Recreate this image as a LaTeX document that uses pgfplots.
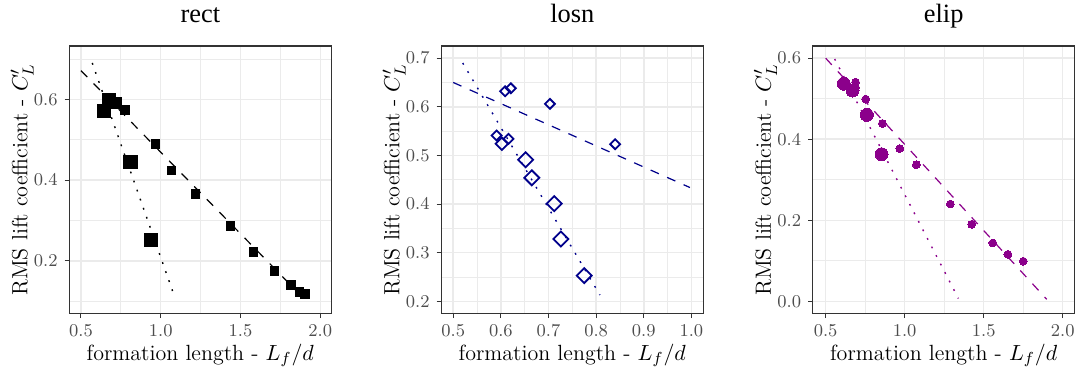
\documentclass[border=0pt]{standalone}
\usepackage{fontspec}
\usepackage{pgfplots}
\pgfplotsset{compat=1.18}
\newfontfamily\titlefont{Liberation Serif}
\definecolor{gridc}{HTML}{EBEBEB}
\definecolor{framec}{HTML}{333333}
\definecolor{tickc}{HTML}{4D4D4D}
\definecolor{navyc}{HTML}{00008B}
\definecolor{purpc}{HTML}{8B008B}
\pgfplotsset{
  panel/.style={
    scale only axis, width=131pt, height=133.75pt,
    anchor=south west,
    axis line style={framec, line width=0.55pt},
    grid=both,
    major grid style={gridc, line width=0.75pt},
    minor grid style={gridc, line width=0.4pt},
    tick align=outside,
    tick pos=left,
    major tick length=2.3pt,
    minor tick length=0pt,
    tick style={framec, line width=0.5pt},
    ticklabel style={font=\fontsize{8.8}{10}\selectfont, text=tickc},
    x tick label style={/pgf/number format/fixed, /pgf/number format/fixed zerofill, /pgf/number format/precision=1},
    y tick label style={/pgf/number format/fixed, /pgf/number format/fixed zerofill, /pgf/number format/precision=1},
    label style={font=\fontsize{11}{13}\selectfont},
    xlabel={formation length - $L_f/d$},
    ylabel={RMS lift coefficient - $C'_L$},
    xlabel style={at={(axis description cs:0.5,-0.157)}, anchor=center},
    ylabel style={at={(axis description cs:-0.18,0.5)}, rotate=0, anchor=center},
    dashedl/.style={line width=0.6pt, dash pattern=on 4.5pt off 4.5pt},
    dottedl/.style={line width=0.7pt, dash pattern=on 0.9pt off 3.9pt},
  }
}
\begin{document}
\begin{tikzpicture}
\useasboundingbox (0,0) rectangle (538pt,184pt);
% ---------------- rect
\begin{axis}[panel, at={(34.65pt,27.25pt)},
  xmin=0.427, xmax=2.069, ymin=0.070, ymax=0.732,
  xtick={0.5,1.0,1.5,2.0}, minor xtick={0.75,1.25,1.75},
  ytick={0.2,0.4,0.6}, minor ytick={0.1,0.3,0.5,0.7}]
\addplot[black, dashedl] coordinates {(0.5,0.671) (1.89,0.110)};
\addplot[black, dottedl] coordinates {(0.571,0.690) (1.090,0.108)};
\addplot[only marks, mark=square*, mark size=2.2pt, mark options={fill=black, draw=black, line width=0pt}] coordinates {
(0.778,0.573) (0.967,0.489) (1.067,0.424) (1.218,0.365) (1.437,0.286)
(1.582,0.222) (1.713,0.175) (1.814,0.140) (1.870,0.124) (1.902,0.119)};
\addplot[only marks, mark=square*, mark size=2.6pt, mark options={fill=black, draw=black, line width=0pt}] coordinates {
(0.722,0.591)};
\addplot[only marks, mark=square*, mark size=3.4pt, mark options={fill=black, draw=black, line width=0pt}] coordinates {
(0.676,0.598) (0.644,0.571) (0.812,0.445) (0.939,0.252)};
\end{axis}
% ---------------- losn
\begin{axis}[panel, at={(220.65pt,27.25pt)},
  xmin=0.475, xmax=1.025, ymin=0.175, ymax=0.725,
  xtick={0.5,0.6,0.7,0.8,0.9,1.0}, minor xtick={0.55,0.65,0.75,0.85,0.95},
  ytick={0.2,0.3,0.4,0.5,0.6,0.7}, minor ytick={0.25,0.35,0.45,0.55,0.65}]
\addplot[navyc, dashedl] coordinates {(0.5,0.650) (0.997,0.434)};
\addplot[navyc, dottedl] coordinates {(0.520,0.690) (0.808,0.213)};
\addplot[only marks, mark=square, mark size=1.75pt, mark options={rotate=45, draw=navyc, line width=0.9pt}] coordinates {
(0.609,0.632) (0.621,0.638) (0.703,0.606) (0.840,0.523) (0.591,0.541) (0.616,0.534)};
\addplot[only marks, mark=square, mark size=2.2pt, mark options={rotate=45, draw=navyc, line width=0.9pt}] coordinates {
(0.602,0.524)};
\addplot[only marks, mark=square, mark size=2.65pt, mark options={rotate=45, draw=navyc, line width=0.9pt}] coordinates {
(0.652,0.491) (0.665,0.454) (0.712,0.401) (0.726,0.328) (0.775,0.253)};
\end{axis}
% ---------------- elip
\begin{axis}[panel, at={(406.35pt,27.25pt)},
  xmin=0.418, xmax=2.076, ymin=-0.030, ymax=0.630,
  xtick={0.5,1.0,1.5,2.0}, minor xtick={0.75,1.25,1.75},
  ytick={0.0,0.2,0.4,0.6}, minor ytick={0.1,0.3,0.5}]
\addplot[purpc, dashedl] coordinates {(0.5,0.600) (1.899,0.005)};
\addplot[purpc, dottedl] coordinates {(0.557,0.598) (1.340,0.007)};
\addplot[only marks, mark=*, mark size=1.95pt, mark options={fill=purpc, draw=purpc, line width=0pt}] coordinates {
(0.689,0.541) (0.689,0.528) (0.754,0.499) (0.859,0.439) (0.969,0.377) (1.074,0.337)
(1.289,0.240) (1.424,0.190) (1.558,0.144) (1.653,0.116) (1.750,0.099)};
\addplot[only marks, mark=*, mark size=3.25pt, mark options={fill=purpc, draw=purpc, line width=0pt}] coordinates {
(0.615,0.537) (0.670,0.520) (0.761,0.460) (0.854,0.363)};
\end{axis}
\node[anchor=base, font=\titlefont\fontsize{13.2}{15}\selectfont] at (100.15pt,172.5pt) {rect};
\node[anchor=base, font=\titlefont\fontsize{13.2}{15}\selectfont] at (286.15pt,172.5pt) {losn};
\node[anchor=base, font=\titlefont\fontsize{13.2}{15}\selectfont] at (471.85pt,172.5pt) {elip};
\end{tikzpicture}
\end{document}
